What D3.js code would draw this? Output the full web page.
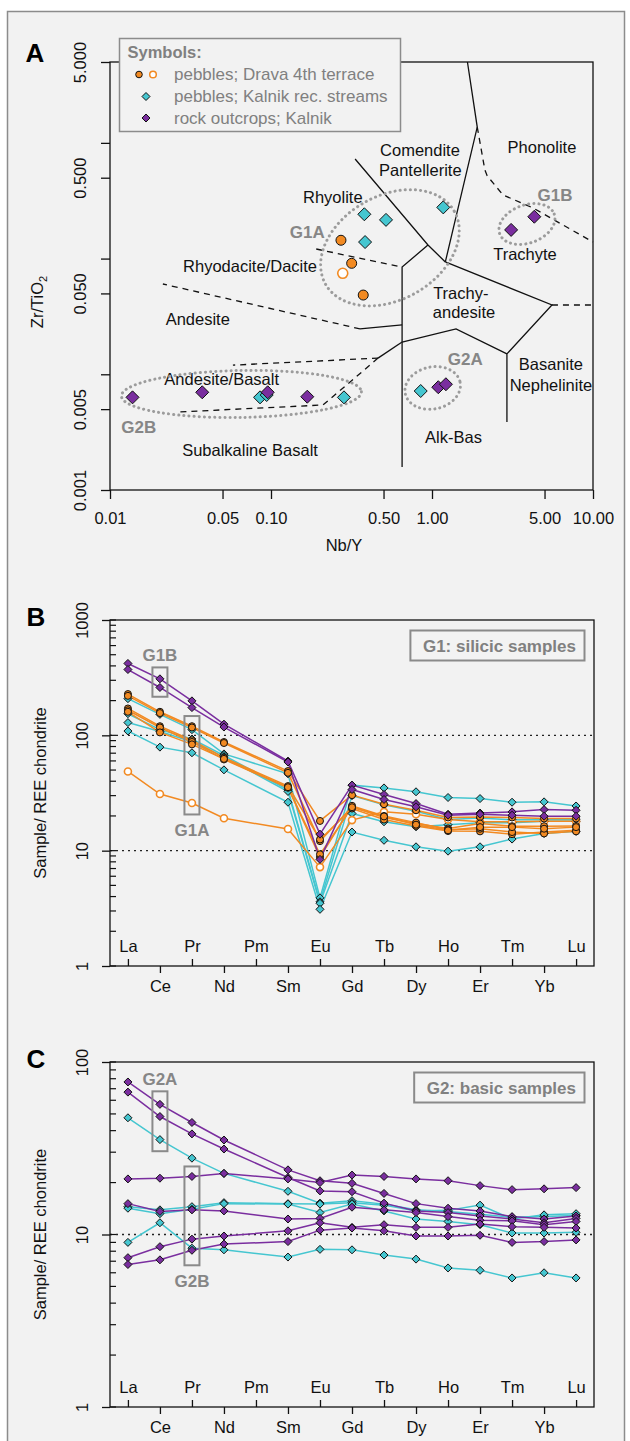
<!DOCTYPE html>
<html>
<head>
<meta charset="utf-8">
<title>Zr/TiO2 - Nb/Y and REE patterns</title>
<script src="https://cdn.jsdelivr.net/npm/d3@7"></script>
<style>
  body { margin: 0; background: #fff; }
  svg text { font-family: "Liberation Sans", Arial, sans-serif; }
  .lbl { font-size: 16.5px; fill: #111; }
  .grp { font-size: 17px; font-weight: bold; fill: #868686; }
  .solid { fill: none; stroke: #111; stroke-width: 1.3; }
  .dash { fill: none; stroke: #111; stroke-width: 1.3; stroke-dasharray: 6 5; }
  .dots { fill: none; stroke: #9c9c9c; stroke-width: 3; stroke-dasharray: 0.1 5; stroke-linecap: round; }
  .ree { fill: none; stroke-width: 1.5; }
  .tick line { stroke: #111; stroke-width: 1.3; }
</style>
</head>
<body>
<div id="chart"></div>
<script>
// ---------- panel A : Zr/TiO2 vs Nb/Y ----------
var dravaNbY = [0.272, 0.317, 0.374];
var dravaZrTi = [0.144, 0.091, 0.0484];
var dravaOpenNbY = [0.279];
var dravaOpenZrTi = [0.0746];
var streamNbY = [0.380, 0.518, 1.175, 0.384, 0.0855, 0.094, 0.284, 0.851];
var streamZrTi = [0.2415, 0.216, 0.277, 0.139, 0.00632, 0.00662, 0.00632, 0.00717];
var outcropNbY = [3.10, 4.32, 0.0138, 0.0374, 0.0954, 0.168, 1.094, 1.22];
var outcropZrTi = [0.177, 0.230, 0.00632, 0.00699, 0.00699, 0.0064, 0.00773, 0.0082];

var xTicksA = [0.01, 0.05, 0.1, 0.5, 1, 5, 10];
var xTickLabelsA = ["0.01", "0.05", "0.10", "0.50", "1.00", "5.00", "10.00"];
var yTicksA = [0.001, 0.005, 0.01, 0.05, 0.1, 0.5, 1, 5];
var yTickLabelsA = ["0.001", "0.005", "", "0.050", "", "0.500", "", "5.000"];

// field boundaries of the classification diagram [Nb/Y, Zr/TiO2]
var fieldSolid = [
  [[1.66, 5], [1.91, 1.37], [1.21, 0.0935]],
  [[0.333, 0.726], [0.944, 0.131], [1.21, 0.0935]],
  [[0.944, 0.131], [0.652, 0.0845], [0.652, 0.00158]],
  [[1.21, 0.0935], [5.56, 0.0397], [2.92, 0.0150], [2.92, 0.00387]],
  [[2.92, 0.0150], [1.41, 0.0247], [0.652, 0.019]],
  [[0.652, 0.0267], [0.357, 0.0247]],
  [[0.652, 0.019], [0.462, 0.0138]]
];
var fieldDashed = [
  [[1.91, 1.37], [2.13, 0.583], [2.2, 0.52], [2.76, 0.355], [4.24, 0.274], [10, 0.139]],
  [[5.56, 0.0397], [10, 0.0397]],
  [[0.357, 0.0247], [0.0213, 0.0603]],
  [[0.462, 0.0138], [0.310, 0.00857], [0.210, 0.00543], [0.0264, 0.00472]],
  [[0.462, 0.0138], [0.058, 0.0120]],
  [[0.191, 0.121], [0.652, 0.0845]]
];
var fieldLabels = [
  ["Comendite", 0.842, 0.856], ["Pantellerite", 0.846, 0.583],
  ["Phonolite", 4.82, 0.922], ["Rhyolite", 0.242, 0.339],
  ["Trachyte", 3.78, 0.110], ["Trachy-", 1.51, 0.0501], ["andesite", 1.58, 0.0344],
  ["Rhyodacite/Dacite", 0.0741, 0.0851], ["Andesite", 0.0351, 0.0299],
  ["Basanite", 5.48, 0.0123], ["Nephelinite", 5.48, 0.00808],
  ["Andesite/Basalt", 0.0494, 0.0091], ["Alk-Bas", 1.36, 0.00285],
  ["Subalkaline Basalt", 0.0741, 0.00222]
];
var groupLabelsA = [["G1A", 0.168, 0.170], ["G1B", 5.81, 0.355], ["G2A", 1.61, 0.01355], ["G2B", 0.0151, 0.00351]];
var groupEllipses = [
  {nb: 0.548, zr: 0.124, rx: 74, ry: 52, rot: -29.5},
  {nb: 3.89, zr: 0.199, rx: 29, ry: 19, rot: -20},
  {nb: 1.01, zr: 0.00762, rx: 28, ry: 21, rot: -12},
  {nb: 0.0655, zr: 0.00676, rx: 120, ry: 23.5, rot: -1}
];

// ---------- panels B, C : chondrite-normalised REE ----------
var ree = ["La", "Ce", "Pr", "Nd", "Pm", "Sm", "Eu", "Gd", "Tb", "Dy", "Ho", "Er", "Tm", "Yb", "Lu"];

var g1Stream1 = [208, 152, 112, 69, null, 46.4, 3.9, 37, 35, 32.4, 28.9, 28.3, 26.3, 26.5, 24.4];
var g1Stream2 = [154, 112, 93, 67, null, 33.7, 3.6, 30, 25, 22, 18.6, 19.2, 18.5, 18.5, 18.5];
var g1Stream3 = [129, 108, 88, 65, null, 32.6, 3.5, 21, 17.8, 16.1, 16.8, 17.5, 17.5, 18, 18];
var g1Stream4 = [109, 79, 70.6, 50.2, null, 26.3, 3.1, 14.5, 12.3, 10.8, 9.9, 10.8, 12.6, 14.1, 14.7];
var g1Drava1 = [228, 160, 120, 87.5, null, 49, 18.1, 30.3, 25.3, 22.4, 19.4, 19.6, 19.4, 19.0, 19.0];
var g1Drava2 = [220, 156, 117, 85.8, null, 47.3, 12.1, 24, 19.4, 17.2, 15.6, 17.2, 16.3, 16.3, 16.4];
var g1Drava3 = [171, 120, 90.6, 64, null, 36.3, 12.5, 23.2, 18.6, 16.4, 14.8, 14.7, 13.9, 14.5, 15.0];
var g1Drava4 = [165, 117, 87.6, 61.8, null, 35.1, 8.8, 24.5, 20, 17.5, 15.2, 15.5, 14.5, 14.1, 14.7];
var g1Drava5 = [160, 106, 83.5, 62.5, null, 35.5, 9.3, 23.8, 19.8, 16.8, 15.0, 16, 16, 15.5, 16];
var g1DravaOpen = [48.6, 31, 25.9, 19.1, null, 15.4, 7.2, 18.4, 21.7, 20.7, 18.6, 17.8, 17.8, 18.0, 18.0];
var g1Outcrop1 = [420, 309, 199, 125, null, 59.8, 13.9, 37, 30.7, 25.6, 20.7, 21.2, 21.7, 22.7, 22.4];
var g1Outcrop2 = [372, 260, 174, 118, null, 58.7, 8.4, 33.9, 27.8, 24, 20.3, 20.7, 20.3, 19.9, 19.9];

var g2Stream1 = [47.5, 35.5, 27.7, 22.6, null, 17.8, 15.2, 15.7, 15.0, 13.9, 13.6, 13.1, 12.6, 12.7, 12.9];
var g2Stream2 = [14.5, 13.9, 14.5, 15.3, null, 15.1, 15.0, 15.3, 14.8, 13.7, 13.8, 14.8, 12.3, 13.0, 13.2];
var g2Stream3 = [14.2, 13.2, 14.0, 15.1, null, 15.0, 13.4, 15.0, 13.7, 12.3, 11.9, 11.4, 10.2, 10.2, 10.3];
var g2Stream4 = [9.0, 11.7, 8.33, 8.15, null, 7.4, 8.2, 8.15, 7.6, 7.2, 6.4, 6.2, 5.6, 6.0, 5.6];
var g2Outcrop1 = [76.6, 56.8, 44.6, 35.3, null, 23.7, 20.5, 19.8, 17.3, 15.1, 14.2, 13.7, 12.7, 12.3, 12.8];
var g2Outcrop2 = [66.9, 48.3, 38.3, 31.3, null, 21.4, 17.9, 17.7, 15.2, 13.7, 13.4, 12.8, 12.3, 11.7, 12.4];
var g2Outcrop3 = [21.0, 21.2, 21.7, 22.6, null, 21.0, 20.0, 22.1, 21.7, 21.0, 20.5, 19.2, 18.2, 18.4, 18.7];
var g2Outcrop4 = [15.1, 13.6, 13.9, 13.7, null, 12.3, 12.4, 14.4, 13.9, 13.4, 12.7, 12.1, 12.0, 11.4, 11.9];
var g2Outcrop5 = [7.34, 8.5, 9.4, 9.8, null, 10.5, 11.7, 11.0, 11.4, 11.0, 11.0, 11.5, 11.1, 11.0, 10.9];
var g2Outcrop6 = [6.7, 7.13, 8.1, 8.8, null, 9.1, 10.6, 10.9, 10.5, 9.8, 9.8, 9.9, 9.0, 9.1, 9.3];

var color = {drava: "#f28a22", open: "#f28a22", stream: "#45c6d0", outcrop: "#7a2e9f"};

var svg = d3.select("#chart").append("svg")
  .attr("width", 630).attr("height", 1441);

svg.append("rect").attr("x", 7.5).attr("y", 11.5).attr("width", 617).attr("height", 1445)
  .attr("fill", "#f2f2f2").attr("stroke", "#8c8c8c").attr("stroke-width", 1.5);

function diamond(h) { return "M0," + (-h) + "L" + h + ",0L0," + h + "L" + (-h) + ",0Z"; }

function marker(g, kind, x, y, big) {
  var r = big ? 5 : 3.5, h = big ? 6.5 : 4;
  if (kind == "drava" || kind == "open") {
    g.append("circle").attr("cx", x).attr("cy", y).attr("r", r)
      .attr("fill", kind == "drava" ? color.drava : "#fff")
      .attr("stroke", kind == "drava" ? "#111" : color.open)
      .attr("stroke-width", kind == "drava" ? 1 : 1.6);
  } else {
    g.append("path").attr("d", diamond(h)).attr("transform", "translate(" + x + "," + y + ")")
      .attr("fill", color[kind]).attr("stroke", "#111").attr("stroke-width", 1);
  }
}

function styleYLabels(axisG, off) {
  axisG.selectAll(".tick text")
    .attr("transform", "rotate(-90)").attr("x", 0).attr("y", off).attr("dy", "0.35em")
    .attr("text-anchor", "middle").attr("class", "lbl").attr("fill", null);
}

// ================= panel A =================
var xA = d3.scaleLog().domain([0.01, 10]).range([110, 593]);
var yA = d3.scaleLog().domain([0.001, 5]).range([490, 62]);
var gA = svg.append("g");

var fieldLine = d3.line().x(function(d) { return xA(d[0]); }).y(function(d) { return yA(d[1]); });
gA.selectAll(".solid").data(fieldSolid).enter().append("path").attr("class", "solid").attr("d", fieldLine);
gA.selectAll(".dash").data(fieldDashed).enter().append("path").attr("class", "dash").attr("d", fieldLine);

gA.selectAll(".fl").data(fieldLabels).enter().append("text").attr("class", "lbl")
  .attr("x", function(d) { return xA(d[1]); }).attr("y", function(d) { return yA(d[2]); })
  .attr("dy", "0.35em").attr("text-anchor", "middle").text(function(d) { return d[0]; });

gA.selectAll(".ell").data(groupEllipses).enter().append("ellipse").attr("class", "dots")
  .attr("cx", function(d) { return xA(d.nb); }).attr("cy", function(d) { return yA(d.zr); })
  .attr("rx", function(d) { return d.rx; }).attr("ry", function(d) { return d.ry; })
  .attr("transform", function(d) { return "rotate(" + d.rot + "," + xA(d.nb) + "," + yA(d.zr) + ")"; });

gA.selectAll(".gl").data(groupLabelsA).enter().append("text").attr("class", "grp")
  .attr("x", function(d) { return xA(d[1]); }).attr("y", function(d) { return yA(d[2]); })
  .attr("dy", "0.35em").attr("text-anchor", "middle").text(function(d) { return d[0]; });

gA.append("rect").attr("x", 110).attr("y", 62).attr("width", 483).attr("height", 428)
  .attr("fill", "none").attr("stroke", "#111").attr("stroke-width", 1.3);

var axA = gA.append("g").attr("transform", "translate(0,490)")
  .call(d3.axisBottom(xA).tickValues(xTicksA).tickSize(9).tickSizeOuter(0)
    .tickFormat(function(d, i) { return xTickLabelsA[i]; }));
axA.select(".domain").remove();
axA.selectAll(".tick text").attr("class", "lbl").attr("fill", null).attr("y", 28).attr("dy", "0.35em");

var ayA = gA.append("g").attr("transform", "translate(110,0)")
  .call(d3.axisLeft(yA).tickValues(yTicksA).tickSize(9).tickSizeOuter(0)
    .tickFormat(function(d, i) { return yTickLabelsA[i]; }));
ayA.select(".domain").remove();
styleYLabels(ayA, -30);

gA.append("text").attr("class", "lbl").attr("x", 344).attr("y", 545).attr("dy", "0.35em")
  .attr("text-anchor", "middle").text("Nb/Y");
var ytA = gA.append("text").attr("class", "lbl").attr("text-anchor", "middle").attr("dy", "0.35em")
  .attr("transform", "translate(37,302) rotate(-90)");
ytA.append("tspan").text("Zr/TiO");
ytA.append("tspan").attr("font-size", "11px").attr("dy", "4").text("2");

// points
var ptsA = gA.append("g");
streamNbY.forEach(function(v, i) { marker(ptsA, "stream", xA(v), yA(streamZrTi[i]), true); });
outcropNbY.forEach(function(v, i) { marker(ptsA, "outcrop", xA(v), yA(outcropZrTi[i]), true); });
dravaNbY.forEach(function(v, i) { marker(ptsA, "drava", xA(v), yA(dravaZrTi[i]), true); });
dravaOpenNbY.forEach(function(v, i) { marker(ptsA, "open", xA(v), yA(dravaOpenZrTi[i]), true); });

// legend
var leg = gA.append("g");
leg.append("rect").attr("x", 119.5).attr("y", 38.5).attr("width", 281).attr("height", 93)
  .attr("fill", "#f2f2f2").attr("stroke", "#8c8c8c").attr("stroke-width", 1.5);
leg.append("text").attr("x", 127.5).attr("y", 52).attr("dy", "0.35em").attr("font-size", "16.5px")
  .attr("font-weight", "bold").attr("fill", "#808080").text("Symbols:");
var legRows = ["pebbles; Drava 4th terrace", "pebbles; Kalnik rec. streams", "rock outcrops; Kalnik"];
legRows.forEach(function(t, i) {
  leg.append("text").attr("x", 174).attr("y", 74 + i * 22).attr("dy", "0.35em")
    .attr("font-size", "17px").attr("fill", "#808080").text(t);
});
leg.append("circle").attr("cx", 139).attr("cy", 74.5).attr("r", 3.3).attr("fill", color.drava).attr("stroke", "#111");
leg.append("circle").attr("cx", 153).attr("cy", 74.5).attr("r", 3.3).attr("fill", "#fff").attr("stroke", color.open).attr("stroke-width", 1.5);
marker(leg, "stream", 146, 96.5, false);
marker(leg, "outcrop", 146, 118, false);

svg.append("text").attr("x", 35).attr("y", 53).attr("dy", "0.35em").attr("text-anchor", "middle")
  .attr("font-size", "26px").attr("font-weight", "bold").text("A");

// ================= panels B and C =================
var xR = d3.scaleLinear().domain([0.44, 15.56]).range([110, 594]);

function reePanel(cfg) {
  var y = d3.scaleLog().domain(cfg.domain).range([cfg.bottom, cfg.top]);
  var g = svg.append("g");

  cfg.dotted.forEach(function(v) {
    g.append("line").attr("x1", 110).attr("x2", 594).attr("y1", y(v)).attr("y2", y(v))
      .attr("stroke", "#222").attr("stroke-width", 1.4).attr("stroke-dasharray", "2 4");
  });

  // minor ticks pointing inward
  var minor = [];
  for (var k = Math.log10(cfg.domain[0]); k < Math.log10(cfg.domain[1]); k++)
    for (var m = 1; m <= 9; m++) minor.push(m * Math.pow(10, k));
  minor.push(cfg.domain[1]);
  g.selectAll(".mn").data(minor).enter().append("line")
    .attr("x1", 110).attr("x2", 116).attr("y1", function(d) { return y(d); }).attr("y2", function(d) { return y(d); })
    .attr("stroke", "#111").attr("stroke-width", 1.2);

  var ay = g.append("g").attr("transform", "translate(110,0)")
    .call(d3.axisLeft(y).tickValues(cfg.yTicks).tickSize(8).tickSizeOuter(0).tickFormat(d3.format("d")));
  ay.select(".domain").remove();
  styleYLabels(ay, -28);

  var inside = ree.map(function(d, i) { return i + 1; }).filter(function(d) { return d % 2 == 1; });
  var outside = ree.map(function(d, i) { return i + 1; }).filter(function(d) { return d % 2 == 0; });
  var axIn = g.append("g").attr("transform", "translate(0," + cfg.bottom + ")")
    .call(d3.axisTop(xR).tickValues(inside).tickSize(7).tickSizeOuter(0)
      .tickFormat(function(d) { return ree[d - 1]; }));
  axIn.select(".domain").remove();
  axIn.selectAll(".tick text").attr("class", "lbl").attr("fill", null).attr("y", -19.5).attr("dy", "0.35em");
  var axOut = g.append("g").attr("transform", "translate(0," + cfg.bottom + ")")
    .call(d3.axisBottom(xR).tickValues(outside).tickSize(7).tickSizeOuter(0)
      .tickFormat(function(d) { return ree[d - 1]; }));
  axOut.select(".domain").remove();
  axOut.selectAll(".tick text").attr("class", "lbl").attr("fill", null).attr("y", 20).attr("dy", "0.35em");

  g.append("rect").attr("x", 110).attr("y", cfg.top).attr("width", 484).attr("height", cfg.bottom - cfg.top)
    .attr("fill", "none").attr("stroke", "#111").attr("stroke-width", 1.3);

  g.append("text").attr("class", "lbl").attr("text-anchor", "middle").attr("dy", "0.35em")
    .attr("transform", "translate(40," + (cfg.top + cfg.bottom) / 2 + ") rotate(-90)")
    .text("Sample/ REE chondrite");

  var line = d3.line().x(function(d) { return xR(d.i + 1); }).y(function(d) { return y(d.v); });
  var series = cfg.series.map(function(s) {
    return {kind: s.kind, pts: s.values.map(function(v, i) { return {i: i, v: v}; })
      .filter(function(d) { return d.v != null; })};
  });
  g.selectAll(".ree").data(series).enter().append("path").attr("class", "ree")
    .attr("stroke", function(d) { return color[d.kind]; })
    .attr("d", function(d) { return line(d.pts); });
  var pg = g.append("g");
  series.forEach(function(s) {
    s.pts.forEach(function(p) { marker(pg, s.kind, xR(p.i + 1), y(p.v), false); });
  });

  cfg.boxes.forEach(function(b) {
    var xi = xR(ree.indexOf(b.el) + 1);
    g.append("rect").attr("x", xi - 7.5).attr("y", y(b.hi)).attr("width", 15).attr("height", y(b.lo) - y(b.hi))
      .attr("fill", "none").attr("stroke", "#8a8a8a").attr("stroke-width", 2);
    g.append("text").attr("class", "grp").attr("x", xi).attr("text-anchor", "middle").attr("dy", "0.35em")
      .attr("y", b.above ? y(b.hi) - 12 : y(b.lo) + 16).text(b.label);
  });

  var box = g.append("rect");
  var tt = g.append("text").attr("x", 576).attr("y", cfg.top + 26).attr("dy", "0.35em")
    .attr("text-anchor", "end").attr("font-size", "17px").attr("font-weight", "bold")
    .attr("fill", "#808080").text(cfg.title);
  var bb = tt.node().getBBox();
  box.attr("x", bb.x - 12.5).attr("y", cfg.top + 10.5)
    .attr("width", bb.width + 21).attr("height", 30)
    .attr("fill", "#f3f3f3").attr("stroke", "#8a8a8a").attr("stroke-width", 2);

  svg.append("text").attr("x", 36).attr("y", cfg.top - 3).attr("dy", "0.35em").attr("text-anchor", "middle")
    .attr("font-size", "26px").attr("font-weight", "bold").text(cfg.letter);
}

reePanel({
  letter: "B", title: "G1: silicic samples",
  domain: [1, 1000], top: 620, bottom: 966, yTicks: [1, 10, 100, 1000], dotted: [10, 100],
  series: [
    {kind: "stream", values: g1Stream1}, {kind: "stream", values: g1Stream2},
    {kind: "stream", values: g1Stream3}, {kind: "stream", values: g1Stream4},
    {kind: "open", values: g1DravaOpen},
    {kind: "drava", values: g1Drava1}, {kind: "drava", values: g1Drava2},
    {kind: "drava", values: g1Drava3}, {kind: "drava", values: g1Drava4},
    {kind: "drava", values: g1Drava5},
    {kind: "outcrop", values: g1Outcrop1}, {kind: "outcrop", values: g1Outcrop2}
  ],
  boxes: [
    {label: "G1B", el: "Ce", hi: 388, lo: 216, above: true},
    {label: "G1A", el: "Pr", hi: 147, lo: 20.6, above: false}
  ]
});

reePanel({
  letter: "C", title: "G2: basic samples",
  domain: [1, 100], top: 1062, bottom: 1407, yTicks: [1, 10, 100], dotted: [10],
  series: [
    {kind: "stream", values: g2Stream1}, {kind: "stream", values: g2Stream2},
    {kind: "stream", values: g2Stream3}, {kind: "stream", values: g2Stream4},
    {kind: "outcrop", values: g2Outcrop1}, {kind: "outcrop", values: g2Outcrop2},
    {kind: "outcrop", values: g2Outcrop3}, {kind: "outcrop", values: g2Outcrop4},
    {kind: "outcrop", values: g2Outcrop5}, {kind: "outcrop", values: g2Outcrop6}
  ],
  boxes: [
    {label: "G2A", el: "Ce", hi: 67.6, lo: 30.4, above: true},
    {label: "G2B", el: "Pr", hi: 24.8, lo: 6.63, above: false}
  ]
});
</script>
</body>
</html>
